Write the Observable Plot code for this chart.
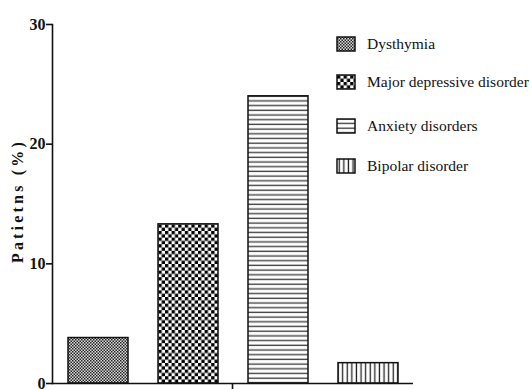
<!DOCTYPE html>
<html>
<head>
<meta charset="utf-8">
<script src="https://cdn.jsdelivr.net/npm/d3@7"></script>
<script src="https://cdn.jsdelivr.net/npm/@observablehq/plot@0.6"></script>
<style>
  html, body { margin: 0; padding: 0; background: white; }
  #chart svg { display: block; }
</style>
</head>
<body>
<div id="chart"></div>
<script>
// ---- data ----
const categories = ["Dysthymia", "Major depressive disorder", "Anxiety disorders", "Bipolar disorder"];
const values = [3.8, 13.3, 24.0, 1.7];
const yTicks = [0, 10, 20, 30];
const yLabel = "Patietns (%)";
const patternIds = ["pat-dys", "pat-mdd", "pat-anx", "pat-bip"];

const data = categories.map((c, i) => ({category: c, value: values[i]}));
const SERIF = "'Liberation Serif', 'DejaVu Serif', serif";

const plot = Plot.plot({
  width: 531,
  height: 390,
  marginLeft: 52,
  marginRight: 118,
  marginTop: 24,
  marginBottom: 7,
  style: {fontFamily: SERIF, background: "white"},
  x: {domain: categories, paddingInner: 1 / 3, paddingOuter: 1 / 6, axis: null},
  y: {domain: [0, 30], ticks: yTicks, axis: null},
  color: {domain: categories, range: patternIds.map(id => `url(#${id})`)},
  marks: [
    Plot.barY(data, {x: "category", y: "value", fill: "category", stroke: "#111", strokeWidth: 1.5}),
    Plot.axisY({ticks: yTicks, tickSize: 6, tickPadding: 1, label: null, tickFormat: d => String(d),
      fontSize: 16, fontWeight: "bold", fontFamily: SERIF, stroke: "#111", strokeWidth: 1.6, fill: "#111"}),
    Plot.frame({anchor: "left", stroke: "#111", strokeWidth: 1.6}),
    Plot.ruleY([0], {stroke: "#111", strokeWidth: 1.6}),
    Plot.text([yLabel], {frameAnchor: "left", textAnchor: "middle", rotate: -90, dx: -35, dy: -3, text: d => d,
      fontSize: 16, fontWeight: "bold", fontFamily: SERIF, fill: "#111"})
  ]
});

document.getElementById("chart").appendChild(plot);

const svg = d3.select(plot);

// letter spacing for the y label
svg.selectAll("text").filter(function () { return this.textContent === yLabel; })
  .style("letter-spacing", "3.2px");

// ---- pattern fills ----
const defs = svg.insert("defs", ":first-child");

// Dysthymia: fine checker
let p = defs.append("pattern").attr("id", "pat-dys").attr("patternUnits", "userSpaceOnUse").attr("width", 3).attr("height", 3);
p.append("rect").attr("width", 3).attr("height", 3).attr("fill", "#ddd");
p.append("rect").attr("width", 1.5).attr("height", 1.5).attr("fill", "#222");
p.append("rect").attr("x", 1.5).attr("y", 1.5).attr("width", 1.5).attr("height", 1.5).attr("fill", "#222");

// Major depressive disorder: coarse checker
p = defs.append("pattern").attr("id", "pat-mdd").attr("patternUnits", "userSpaceOnUse").attr("width", 6.6).attr("height", 6.6);
p.append("rect").attr("width", 6.6).attr("height", 6.6).attr("fill", "white");
p.append("rect").attr("width", 3.3).attr("height", 3.3).attr("fill", "#000");
p.append("rect").attr("x", 3.3).attr("y", 3.3).attr("width", 3.3).attr("height", 3.3).attr("fill", "#000");

// Anxiety: horizontal lines
p = defs.append("pattern").attr("id", "pat-anx").attr("patternUnits", "userSpaceOnUse").attr("width", 10).attr("height", 4.7);
p.append("rect").attr("width", 10).attr("height", 4.7).attr("fill", "white");
p.append("rect").attr("y", 1.5).attr("width", 10).attr("height", 1.4).attr("fill", "#444");

// Bipolar: vertical lines
p = defs.append("pattern").attr("id", "pat-bip").attr("patternUnits", "userSpaceOnUse").attr("width", 4.6).attr("height", 10);
p.append("rect").attr("width", 4.6).attr("height", 10).attr("fill", "white");
p.append("rect").attr("x", 1.6).attr("width", 1.3).attr("height", 10).attr("fill", "#222");

// ---- middle tick on x axis ----
const xr = plot.scale("x").range;
const y0 = plot.scale("y").apply(0);
const xm = (xr[0] + xr[1]) / 2;
svg.append("line").attr("x1", xm).attr("x2", xm).attr("y1", y0).attr("y2", y0 + 6)
  .attr("stroke", "#111").attr("stroke-width", 1.6);

// ---- legend ----
const legendX = 337, legendY0 = 44, legendSteps = [0, 38, 82, 122];
const lg = svg.append("g").attr("class", "legend")
  .attr("font-family", SERIF).attr("font-size", 15).attr("text-anchor", "start").attr("fill", "#111");
categories.forEach((c, i) => {
  const g = lg.append("g").attr("transform", `translate(${legendX},${legendY0 + legendSteps[i]})`);
  g.append("rect").attr("x", 0).attr("y", -7).attr("width", 18).attr("height", 14)
    .attr("fill", `url(#${patternIds[i]})`).attr("stroke", "#111").attr("stroke-width", 1.5);
  g.append("text").attr("x", 30).attr("y", 0).attr("dy", "0.35em")
    .style("font-family", SERIF).style("font-size", "15.5px").style("text-anchor", "start").text(c);
});
</script>
</body>
</html>
